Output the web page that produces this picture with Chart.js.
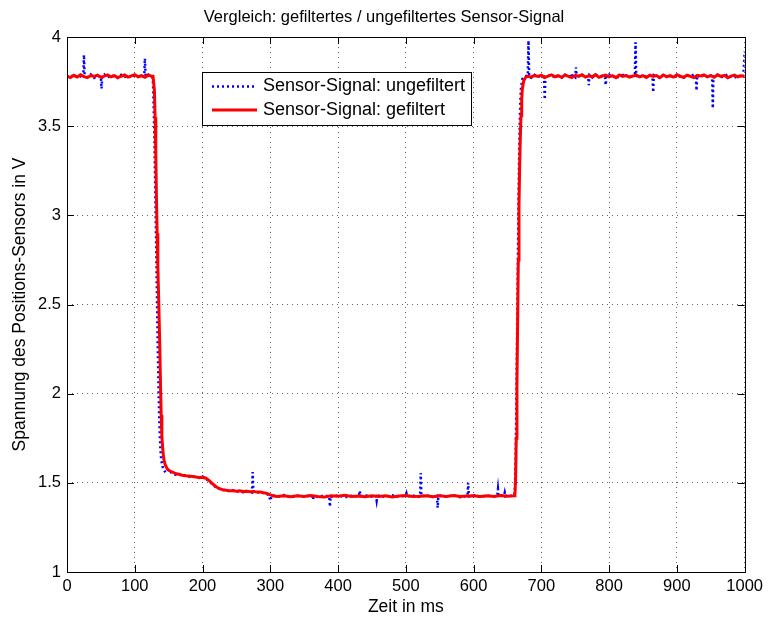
<!DOCTYPE html>
<html lang="de">
<head>
    <meta charset="UTF-8">
    <title>Vergleich: gefiltertes / ungefiltertes Sensor-Signal</title>
    <style>
        html, body { margin: 0; padding: 0; background: #fff; }
        #wrap { width: 768px; height: 618px; }
    </style>
</head>
<body>
    <div id="wrap"><canvas id="sensorChart" width="768" height="618"></canvas></div>

    <script src="https://cdn.jsdelivr.net/npm/chart.js"></script>
    <script>
        // Achsen / Beschriftungen
        const xTicks = [0, 100, 200, 300, 400, 500, 600, 700, 800, 900, 1000];
        const yTicks = [1, 1.5, 2, 2.5, 3, 3.5, 4];

        // ungefiltertes Signal (blau, gepunktet), Zeit in ms / Spannung in V
        const rawTime = [
            0, 5, 10, 15, 20, 24, 25, 26, 30, 35,
            40, 45, 50, 51, 52, 55, 60, 65, 70, 75,
            80, 85, 90, 95, 100, 105, 110, 114, 115, 116,
            120, 125,
            126, 127, 128, 129, 130, 131, 132, 133, 134, 135,
            136, 137, 138, 139, 141, 143, 146, 150, 155, 160,
            165, 170, 175, 180, 185, 190, 195, 200, 205, 210,
            215, 220, 225, 230, 235, 240, 245, 250, 255, 260,
            265, 270, 273, 274, 275, 280, 285, 290, 295, 298,
            300, 302, 305,
            310, 320, 330, 340, 350, 360, 362, 363, 364, 370,
            380, 387, 388, 389, 390, 400, 410, 420, 430, 431,
            432, 433, 440, 450, 456, 457, 458, 460, 470, 480,
            490, 500, 501, 502, 510, 520, 521, 522, 523, 530,
            540, 546, 547, 548, 550, 560, 570, 580, 590, 591,
            592, 593, 600, 610, 620, 630, 635, 636, 637, 640,
            645, 646, 647, 650, 655, 660,
            661, 662, 663, 664, 665, 666, 667, 668, 669, 670,
            672, 675, 680, 681, 682, 685, 690, 695, 700, 704,
            705, 706, 710, 715, 720, 725, 730, 735, 740, 744,
            745, 746, 750, 751, 752, 755, 760, 765, 769, 770,
            771, 775, 780, 785, 790, 794, 795, 796, 800, 805,
            810, 815, 819, 820, 821, 825, 830, 835, 838, 839,
            840, 845, 850, 855, 860, 864, 865, 866, 870, 875,
            880, 885, 890, 895, 900, 905, 910, 915, 920, 925,
            928, 929, 930, 935, 940, 945, 950, 952, 953, 954,
            960, 965, 970, 975, 980, 985, 990, 995, 998, 1000
        ];
        const rawVolt = [
            3.776, 3.789, 3.772, 3.784, 3.779, 3.770, 3.900, 3.786, 3.775, 3.790,
            3.771, 3.783, 3.777, 3.710, 3.781, 3.790, 3.772, 3.786, 3.779, 3.770,
            3.788, 3.776, 3.784, 3.771, 3.787, 3.779, 3.774, 3.785, 3.880, 3.778,
            3.789, 3.776,
            3.770, 3.740, 3.600, 3.420, 3.200, 2.960, 2.720, 2.480, 2.250, 2.050,
            1.880, 1.760, 1.680, 1.630, 1.590, 1.570, 1.556, 1.575, 1.552, 1.545,
            1.550, 1.538, 1.542, 1.535, 1.540, 1.531, 1.527, 1.536, 1.522, 1.508,
            1.490, 1.474, 1.466, 1.458, 1.462, 1.452, 1.458, 1.449, 1.456, 1.447,
            1.454, 1.450, 1.446, 1.560, 1.452, 1.443, 1.450, 1.441, 1.438, 1.430,
            1.400, 1.424, 1.430,
            1.420, 1.432, 1.418, 1.428, 1.423, 1.430, 1.425, 1.405, 1.424, 1.421,
            1.429, 1.424, 1.366, 1.426, 1.422, 1.430, 1.419, 1.427, 1.424, 1.428,
            1.456, 1.425, 1.431, 1.422, 1.426, 1.400, 1.424, 1.428, 1.421, 1.430,
            1.423, 1.427, 1.440, 1.424, 1.429, 1.422, 1.426, 1.555, 1.424, 1.430,
            1.421, 1.428, 1.360, 1.425, 1.429, 1.422, 1.431, 1.420, 1.426, 1.428,
            1.500, 1.424, 1.430, 1.421, 1.428, 1.424, 1.430, 1.465, 1.426, 1.431,
            1.428, 1.445, 1.425, 1.432, 1.427, 1.430,
            1.470, 1.620, 1.900, 2.250, 2.620, 2.980, 3.280, 3.500, 3.640, 3.720,
            3.765, 3.778, 3.784, 3.980, 3.776, 3.771, 3.788, 3.776, 3.783, 3.772,
            3.650, 3.781, 3.789, 3.774, 3.786, 3.779, 3.771, 3.788, 3.776, 3.784,
            3.795, 3.778, 3.772, 3.830, 3.786, 3.779, 3.790, 3.774, 3.781, 3.730,
            3.786, 3.772, 3.789, 3.776, 3.783, 3.771, 3.730, 3.784, 3.790, 3.775,
            3.782, 3.771, 3.788, 3.800, 3.779, 3.785, 3.773, 3.790, 3.777, 3.970,
            3.782, 3.774, 3.788, 3.776, 3.784, 3.772, 3.690, 3.786, 3.780, 3.771,
            3.789, 3.776, 3.783, 3.772, 3.787, 3.778, 3.771, 3.785, 3.779, 3.790,
            3.774, 3.700, 3.786, 3.772, 3.789, 3.777, 3.784, 3.775, 3.600, 3.781,
            3.788, 3.773, 3.782, 3.790, 3.776, 3.771, 3.785, 3.779, 3.776, 3.920
        ];

        // gefiltertes Signal (rot)
        const filtTime = [
            0, 5, 10, 15, 20, 25, 30, 35, 40, 45, 50, 55, 60, 65, 70, 75, 80, 85, 90, 95,
            100, 105, 110, 115, 120, 125,
            127, 129, 130, 131, 132, 133, 134, 135.5, 137, 138, 139, 140, 141.5, 143, 145, 148, 152, 157,
            160, 165, 170, 175, 180, 185, 190, 195, 200, 205, 210, 215, 220, 225, 230,
            235, 240, 245, 250, 255, 260, 265, 270, 275, 280, 285, 290, 295, 300, 305,
            310, 320, 330, 340, 350, 360, 370, 380, 390, 400, 410, 420, 430, 440, 450, 460, 470, 480,
            490, 500, 510, 520, 530, 540, 550, 560, 570, 580, 590, 600, 610, 620, 630, 640, 650, 660,
            661, 662, 663, 664, 665, 666, 667, 668, 669, 670, 671, 672, 674, 677, 680,
            685, 690, 695, 700, 705, 710, 715, 720, 725, 730, 735, 740, 745, 750, 755, 760,
            765, 770, 775, 780, 785, 790, 795, 800, 805, 810, 815, 820, 825, 830, 835, 840,
            845, 850, 855, 860, 865, 870, 875, 880, 885, 890, 895, 900, 905, 910, 915, 920,
            925, 930, 935, 940, 945, 950, 955, 960, 965, 970, 975, 980, 985, 990, 995, 1000
        ];
        const filtVolt = [
            3.780, 3.772, 3.785, 3.776, 3.788, 3.778, 3.772, 3.784, 3.779, 3.786,
            3.774, 3.781, 3.788, 3.776, 3.783, 3.772, 3.780, 3.787, 3.775, 3.782,
            3.789, 3.777, 3.783, 3.774, 3.786, 3.780,
            3.780, 3.700, 3.550, 3.350, 3.100, 2.900, 2.720, 2.500, 2.250, 2.050,
            1.880, 1.760, 1.680, 1.630, 1.600, 1.578, 1.566, 1.558,
            1.552, 1.548, 1.543, 1.540, 1.538, 1.536, 1.533, 1.530, 1.531, 1.526,
            1.512, 1.494, 1.478, 1.467, 1.461, 1.458, 1.455, 1.456, 1.453, 1.455,
            1.451, 1.453, 1.450, 1.452, 1.448, 1.449, 1.445, 1.440, 1.432, 1.426,
            1.424, 1.428, 1.422, 1.427, 1.423, 1.429, 1.424, 1.421, 1.427, 1.425,
            1.430, 1.423, 1.426, 1.422, 1.428, 1.424, 1.427, 1.421, 1.426, 1.429,
            1.423, 1.425, 1.428, 1.422, 1.427, 1.424, 1.429, 1.423, 1.426, 1.428,
            1.424, 1.427, 1.423, 1.429, 1.425, 1.428,
            1.430, 1.520, 1.750, 2.050, 2.400, 2.750, 3.050, 3.280, 3.440, 3.560,
            3.650, 3.710, 3.755, 3.775, 3.780,
            3.776, 3.784, 3.779, 3.786, 3.773, 3.781, 3.788, 3.777, 3.783, 3.774,
            3.787, 3.779, 3.772, 3.785, 3.780, 3.788, 3.775, 3.782, 3.777, 3.789,
            3.774, 3.781, 3.786, 3.776, 3.783, 3.772, 3.787, 3.779, 3.784, 3.775,
            3.781, 3.788, 3.776, 3.783, 3.773, 3.786, 3.779, 3.784, 3.772, 3.787,
            3.778, 3.783, 3.775, 3.788, 3.780, 3.774, 3.786, 3.779, 3.772, 3.785,
            3.781, 3.787, 3.776, 3.783, 3.774, 3.788, 3.779, 3.785, 3.772, 3.781,
            3.786, 3.777, 3.783, 3.779
        ];

        const FONT = "'Liberation Sans', Arial, Helvetica, sans-serif";

        const toPoints = (ts, vs) => ts.map((t, i) => ({ x: t, y: vs[i] }));

        // Rahmen, Ticks nach innen, Titel und Legende im Matlab-Stil
        const matlabFrame = {
            id: 'matlabFrame',
            afterDraw(chart) {
                const { ctx, chartArea: a, scales } = chart;
                const tl = 7;
                ctx.save();
                ctx.strokeStyle = '#000';
                ctx.lineWidth = 1;
                ctx.beginPath();
                scales.x.ticks.forEach((t, i) => {
                    const px = Math.round(scales.x.getPixelForTick(i)) + 0.5;
                    ctx.moveTo(px, a.bottom); ctx.lineTo(px, a.bottom - tl);
                    ctx.moveTo(px, a.top); ctx.lineTo(px, a.top + tl);
                });
                scales.y.ticks.forEach((t, i) => {
                    const py = Math.round(scales.y.getPixelForTick(i)) + 0.5;
                    ctx.moveTo(a.left, py); ctx.lineTo(a.left + tl, py);
                    ctx.moveTo(a.right, py); ctx.lineTo(a.right - tl, py);
                });
                ctx.stroke();
                ctx.strokeRect(Math.round(a.left) + 0.5, Math.round(a.top) + 0.5,
                    Math.round(a.right - a.left), Math.round(a.bottom - a.top));

                // Titel
                ctx.fillStyle = '#000';
                ctx.font = '16.5px ' + FONT;
                ctx.textAlign = 'center';
                ctx.textBaseline = 'middle';
                ctx.fillText('Vergleich: gefiltertes / ungefiltertes Sensor-Signal', chart.width / 2, 17);

                // Legende
                const lx = 202, ly = 72, lw = 269, lh = 53;
                ctx.fillStyle = '#fff';
                ctx.fillRect(lx, ly, lw, lh);
                ctx.strokeRect(lx + 0.5, ly + 0.5, lw, lh);
                const items = chart.data.datasets.slice().reverse();
                items.forEach((ds, i) => {
                    const y = 86.5 + i * 23.5;
                    ctx.beginPath();
                    ctx.strokeStyle = ds.borderColor;
                    ctx.lineWidth = ds.borderWidth;
                    ctx.setLineDash(ds.borderDash || []);
                    ctx.moveTo(212, y); ctx.lineTo(257, y);
                    ctx.stroke();
                    ctx.setLineDash([]);
                    ctx.fillStyle = '#000';
                    ctx.font = '18px ' + FONT;
                    ctx.textAlign = 'left';
                    ctx.fillText(ds.label, 263, y);
                });
                ctx.restore();
            }
        };

        const ctx = document.getElementById('sensorChart').getContext('2d');
        const sensorChart = new Chart(ctx, {
            type: 'line',
            data: {
                datasets: [{
                    label: 'Sensor-Signal: gefiltert',
                    data: toPoints(filtTime, filtVolt),
                    borderColor: 'rgb(255, 0, 0)',
                    borderWidth: 3,
                    pointRadius: 0,
                    tension: 0,
                    fill: false
                }, {
                    label: 'Sensor-Signal: ungefiltert',
                    data: toPoints(rawTime, rawVolt),
                    borderColor: 'rgb(0, 0, 255)',
                    borderWidth: 2.5,
                    borderDash: [2, 3],
                    pointRadius: 0,
                    tension: 0,
                    fill: false
                }]
            },
            options: {
                responsive: false,
                animation: false,
                layout: { padding: { top: 37, right: 23, left: 0, bottom: 0 } },
                plugins: {
                    legend: { display: false },
                    title: { display: false },
                    tooltip: { enabled: false }
                },
                scales: {
                    x: {
                        type: 'linear',
                        min: 0,
                        max: 1000,
                        afterFit(scale) { scale.height = 46; },
                        afterBuildTicks(scale) { scale.ticks = xTicks.map(v => ({ value: v })); },
                        grid: { color: '#666', lineWidth: 1, drawTicks: false },
                        border: { display: false, dash: [1, 4] },
                        ticks: { color: '#000', padding: 5, font: { family: FONT, size: 16.5 }, maxRotation: 0, callback: v => String(v) },
                        title: { display: true, text: 'Zeit in ms', color: '#000', font: { family: FONT, size: 17.5 }, padding: { top: 0, bottom: 0 } }
                    },
                    y: {
                        type: 'linear',
                        min: 1,
                        max: 4,
                        afterFit(scale) { scale.width = 67; },
                        afterBuildTicks(scale) { scale.ticks = yTicks.map(v => ({ value: v })); },
                        grid: { color: '#666', lineWidth: 1, drawTicks: false },
                        border: { display: false, dash: [1, 4] },
                        ticks: { color: '#000', padding: 6, font: { family: FONT, size: 16.5 }, callback: v => String(v) },
                        title: { display: true, text: 'Spannung des Positions-Sensors in V', color: '#000', font: { family: FONT, size: 17.5 }, padding: { top: 10, bottom: 0 } }
                    }
                }
            },
            plugins: [matlabFrame]
        });
    </script>
</body>
</html>
